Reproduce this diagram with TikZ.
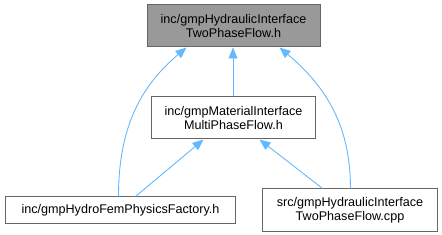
\documentclass[tikz,border=0pt]{standalone}
\usepackage{fontspec}
\setmainfont{Liberation Sans}
\usepackage{xcolor}
\usepackage{tikz}
\usetikzlibrary{arrows.meta,positioning}

\definecolor{edgeblue}{HTML}{63B8FF}
\definecolor{boxline}{HTML}{666666}
\definecolor{curfill}{HTML}{999999}

\begin{document}
\begin{tikzpicture}[
    x=1pt, y=-1pt,
    node distance=49pt and 0pt,
    file/.style={rectangle, draw=boxline, fill=white, line width=1pt, inner sep=0pt, minimum height=42pt, align=center, font=\fontsize{12.6}{14}\selectfont},
    arr/.style={{Triangle[length=11pt, width=9pt]}-, draw=edgeblue, line width=0.9pt}
]
\useasboundingbox (0,0) rectangle (442,235);

\node[file, fill=curfill, minimum width=173pt] (cur) at (233.5,26) {inc/gmpHydraulicInterface\\TwoPhaseFlow.h};
\node[file, minimum width=164pt, below=of cur] (mat) {inc/gmpMaterialInterface\\MultiPhaseFlow.h};
\node[file, minimum width=230pt, minimum height=26pt, below=57pt of mat, xshift=-113pt] (fac) {inc/gmpHydroFemPhysicsFactory.h};
\node[file, minimum width=175pt, below=of mat, xshift=116.5pt] (src) {src/gmpHydraulicInterface\\TwoPhaseFlow.cpp};

\draw[arr] ([xshift=-0.5pt]cur.south) -- ([xshift=-0.5pt]mat.north);
\draw[arr] ([xshift=-47pt]cur.south) to[out=220, in=90] ([xshift=-2pt]fac.north);
\draw[arr] ([xshift=46pt]cur.south) to[out=-40, in=90] ([xshift=0.5pt]src.north);
\draw[arr] ([xshift=-30pt]mat.south) -- ([xshift=15pt]fac.north);
\draw[arr] ([xshift=26pt]mat.south) -- ([xshift=-27.5pt]src.north);
\end{tikzpicture}
\end{document}
